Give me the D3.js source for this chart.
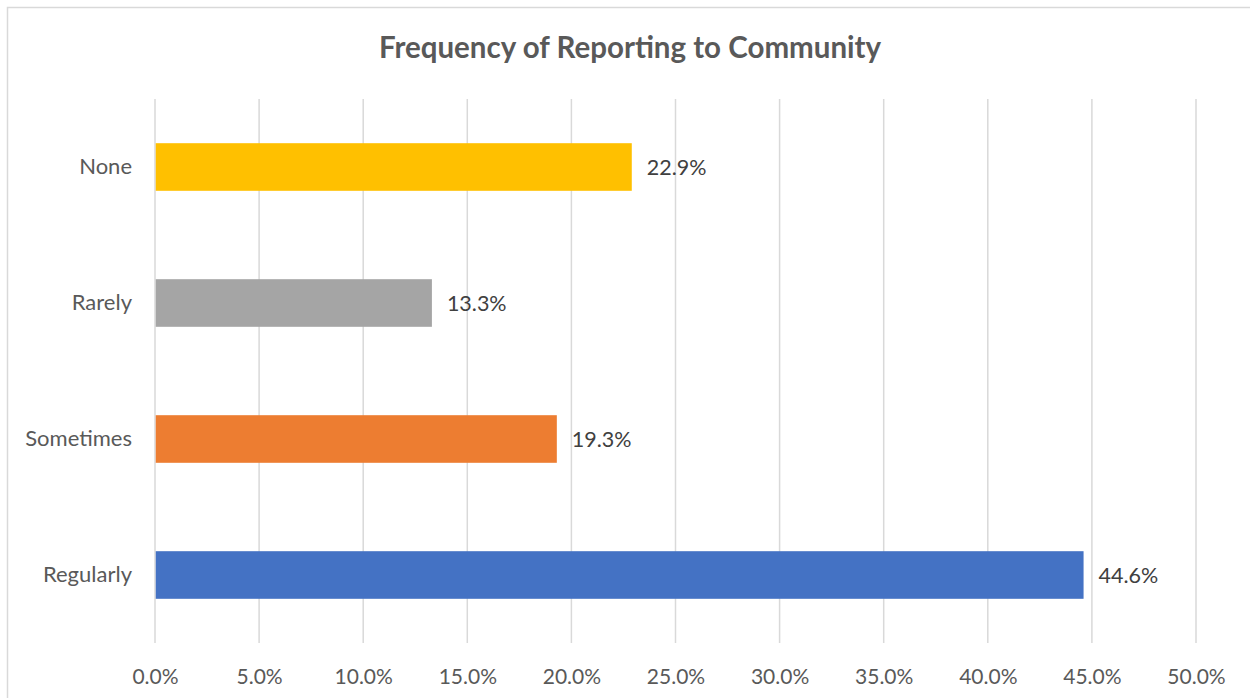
<!DOCTYPE html>
<html>
<head>
<meta charset="utf-8">
<script src="https://cdn.jsdelivr.net/npm/d3@7"></script>
<style>
  html, body { margin: 0; padding: 0; background: #fff; }
  svg { display: block; }
  text { font-family: Lato, "Noto Sans", sans-serif; }
</style>
</head>
<body>
<svg id="chart" width="1250" height="698"></svg>
<script>
// Survey responses: share of respondents by reporting frequency
const categories = ["None", "Rarely", "Sometimes", "Regularly"];
const shares = [22.9, 13.3, 19.3, 44.6];
const barColors = ["#FFC000", "#A5A5A5", "#ED7D31", "#4472C4"];
const tickValues = [0, 5, 10, 15, 20, 25, 30, 35, 40, 45, 50];
const title = "Frequency of Reporting to Community";

const data = categories.map((c, i) => ({ category: c, value: shares[i], color: barColors[i] }));

const svg = d3.select("#chart");
const W = 1250, H = 698;
const margin = { top: 99, right: 54, bottom: 55, left: 155 };

// outer chart frame
svg.append("rect")
  .attr("x", 7.5).attr("y", 7.5)
  .attr("width", W + 10).attr("height", H + 10)
  .attr("fill", "#fff")
  .attr("stroke", "#D9D9D9")
  .attr("stroke-width", 1.5);

const x = d3.scaleLinear().domain([0, 50]).range([margin.left, W - margin.right]);
const y = d3.scaleBand().domain(categories)
  .range([margin.top, H - margin.bottom])
  .paddingInner(0.65).paddingOuter(0.325);

// vertical gridlines
svg.append("g")
  .selectAll("line")
  .data(tickValues)
  .join("line")
  .attr("x1", d => x(d)).attr("x2", d => x(d))
  .attr("y1", margin.top).attr("y2", H - margin.bottom)
  .attr("stroke", "#D9D9D9")
  .attr("stroke-width", 1.5);

// bottom axis labels
const xAxis = d3.axisBottom(x)
  .tickValues(tickValues)
  .tickFormat(d => d3.format(".1f")(d) + "%")
  .tickSize(0)
  .tickPadding(26);
const gx = svg.append("g")
  .attr("transform", `translate(0,${H - margin.bottom})`)
  .call(xAxis);
gx.select(".domain").remove();
gx.selectAll("text")
  .attr("fill", "#595959")
  .style("font-size", "21px");

// left axis labels
const yAxis = d3.axisLeft(y).tickSize(0).tickPadding(23);
const gy = svg.append("g")
  .attr("transform", `translate(${margin.left},0)`)
  .call(yAxis);
gy.select(".domain").remove();
gy.selectAll("text")
  .attr("fill", "#595959")
  .style("font-size", "22px");

// bars
svg.append("g")
  .selectAll("rect")
  .data(data)
  .join("rect")
  .attr("x", x(0) + 0.75)
  .attr("y", d => y(d.category))
  .attr("width", d => x(d.value) - x(0) - 0.75)
  .attr("height", y.bandwidth())
  .attr("fill", d => d.color);

// value labels
svg.append("g")
  .selectAll("text")
  .data(data)
  .join("text")
  .attr("x", d => x(d.value) + 15)
  .attr("y", d => y(d.category) + y.bandwidth() / 2)
  .attr("dy", "0.35em")
  .attr("fill", "#404040")
  .style("font-size", "21.5px")
  .text(d => d3.format(".1f")(d.value) + "%");

// title
svg.append("text")
  .attr("x", 630)
  .attr("y", 58)
  .attr("text-anchor", "middle")
  .attr("fill", "#595959")
  .style("font-size", "29.5px")
  .style("font-weight", "bold")
  .text(title);
</script>
</body>
</html>
